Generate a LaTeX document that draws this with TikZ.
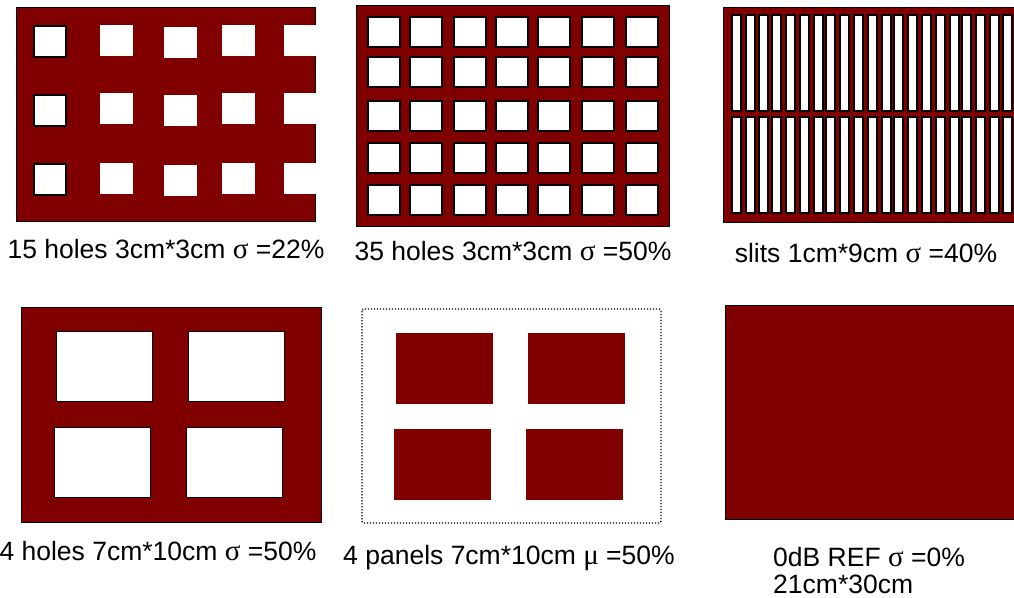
\documentclass[tikz,border=0pt]{standalone}
\usepackage{fontspec}
\setmainfont{Liberation Sans}
\newfontfamily\grk{Liberation Serif}
\usepackage{tikz}
\usepackage{xcolor}
\definecolor{mred}{RGB}{128,0,0}

\begin{document}
\begin{tikzpicture}[x=1pt,y=-1pt,
  plate/.style={draw=black,fill=mred,line width=1pt},
  hole/.style={draw=black,fill=white,line width=1.5pt},
  wide/.style={draw=black,fill=white,line width=1pt},
  frame/.style={draw=black,line width=1.3pt,dash pattern=on 1.3pt off 1.7pt,rounded corners=2pt},
  lbl/.style={font=\fontsize{26.5}{28}\selectfont,inner sep=0pt,anchor=base}
]
\useasboundingbox (0,0) rectangle (1014,597);

% ── 15 holes ────────────────────────────────────────────
\draw[plate] (16,7) rectangle (315,221);
\foreach \y in {26,95,164} \draw[hole] (34,\y) rectangle +(32,31);
\foreach \x/\dy in {100/0,164/2,222/0}
  \foreach \y in {25,93,163} \fill[white] (\x,\y+\dy) rectangle +(33,31);
\foreach \y in {25,93,163} \fill[white] (284,\y) rectangle (316,\y+31);
\node[lbl] (lab1) at (166,258) {15 holes 3cm*3cm {\grk\fontsize{29}{28}\selectfont σ} =22\%};

% ── 35 holes ────────────────────────────────────────────
\draw[plate] (356,5) rectangle (669,226);
\foreach \x in {368,410,454,496,538,582,626}
  \foreach \y in {17,57,101,143,185} \draw[hole] (\x,\y) rectangle +(32,30);
\node[lbl] (lab2) at (513,260) {35 holes 3cm*3cm {\grk\fontsize{29}{28}\selectfont σ} =50\%};

% ── slits ───────────────────────────────────────────────
\draw[plate] (723,7) rectangle (1030,222);
\foreach \x in {732,746,759,772,786,800,814,826,840,854,868,882,894,908,922,936,950,962,976,990,1003}
  \foreach \y in {15,117} \draw[hole] (\x,\y) rectangle +(9,96);
\node[lbl] (lab3) at (866,262) {slits 1cm*9cm {\grk\fontsize{29}{28}\selectfont σ} =40\%};

% ── 4 holes ─────────────────────────────────────────────
\draw[plate] (21,307) rectangle (321,522);
\draw[wide] (56,331) rectangle (152,401);
\draw[wide] (188,331) rectangle (284,401);
\draw[wide] (54,427) rectangle (150,497);
\draw[wide] (186,427) rectangle (282,497);
\node[lbl] (lab4) at (158,560) {4 holes 7cm*10cm {\grk\fontsize{29}{28}\selectfont σ} =50\%};

% ── 4 panels ────────────────────────────────────────────
\draw[frame] (362,309) rectangle (661,523);
\fill[mred] (396,333) rectangle (493,404);
\fill[mred] (528,333) rectangle (625,404);
\fill[mred] (394,429) rectangle (491,500);
\fill[mred] (526,429) rectangle (623,500);
\node[lbl] (lab5) at (509,564) {4 panels 7cm*10cm {\grk\fontsize{29}{28}\selectfont μ} =50\%};

% ── reference ───────────────────────────────────────────
\draw[plate] (725,305) rectangle (1030,519);
\node[lbl,anchor=base west] (lab6) at (773,566) {0dB REF {\grk\fontsize{29}{28}\selectfont σ} =0\%};
\node[lbl,anchor=base west] (lab7) at (773,593) {21cm*30cm};

\end{tikzpicture}
\end{document}
